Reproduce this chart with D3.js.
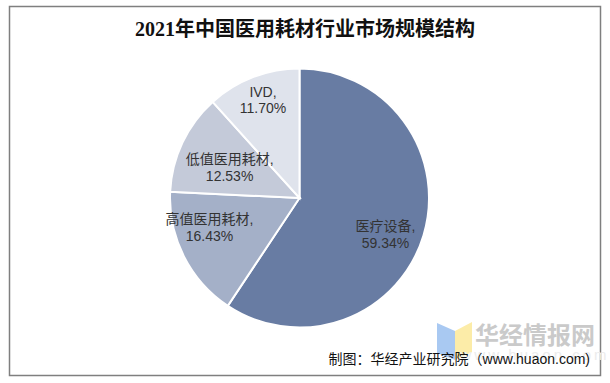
<!DOCTYPE html>
<html>
<head>
<meta charset="utf-8">
<script src="https://cdn.jsdelivr.net/npm/d3@7"></script>
<style>
  body { margin: 0; background: #fff; }
  svg { display: block; }
</style>
</head>
<body>
<svg id="chart" width="610" height="383"></svg>
<script>
// chart data
const categories = ["医疗设备", "高值医用耗材", "低值医用耗材", "IVD"];
const shares = [59.34, 16.43, 12.53, 11.70];
const colors = ["#687ca3", "#a4b0c8", "#c4cad9", "#dfe3ec"];
const titleText = "2021年中国医用耗材行业市场规模结构";

const svg = d3.select("#chart");
const cx = 299.5, cy = 198, radius = 129.5;

// frame
svg.append("rect")
  .attr("x", 9.5).attr("y", 6.5)
  .attr("width", 591).attr("height", 369)
  .attr("fill", "#fff")
  .attr("stroke", "#7f7f7f")
  .attr("stroke-width", 1.5);

// title
svg.append("text")
  .attr("x", 305).attr("y", 36)
  .attr("text-anchor", "middle")
  .attr("font-family", "'Liberation Serif', 'Noto Sans CJK SC', serif")
  .attr("font-weight", "bold")
  .attr("font-size", 20)
  .attr("fill", "#111")
  .text(titleText);

const data = categories.map((c, i) => ({ name: c, value: shares[i], color: colors[i] }));

const pie = d3.pie().sort(null).value(d => d.value);
const arc = d3.arc().innerRadius(0).outerRadius(radius);

const g = svg.append("g").attr("transform", `translate(${cx},${cy})`);

const arcs = pie(data);

g.selectAll("path")
  .data(arcs)
  .join("path")
  .attr("d", arc)
  .attr("fill", d => d.data.color)
  .attr("stroke", "#fff")
  .attr("stroke-width", 2);

// label placement: radial fraction and angular nudge (degrees) per slice
const labelR = [0.72, 0.73, 0.59, 0.81];
const labelNudge = [6, 9, -1.5, 0.7];
function labelPos(d, i) {
  const a = (d.startAngle + d.endAngle) / 2 + labelNudge[i] * Math.PI / 180;
  const r = radius * labelR[i];
  return [r * Math.sin(a), -r * Math.cos(a)];
}

const labels = g.selectAll("text.lbl")
  .data(arcs)
  .join("text")
  .attr("class", "lbl")
  .attr("transform", (d, i) => `translate(${labelPos(d, i)})`)
  .attr("text-anchor", "middle")
  .attr("font-family", "Arial, 'Liberation Sans', 'Noto Sans CJK SC', sans-serif")
  .attr("font-size", 14)
  .attr("fill", "#333");

labels.append("tspan")
  .attr("x", 0).attr("dy", "-0.22em")
  .text(d => d.data.name + ",");
labels.append("tspan")
  .attr("x", 0).attr("dy", "1.2em")
  .text(d => d.data.value.toFixed(2) + "%");

// watermark logo
const logo = svg.append("g");
logo.append("path")
  .attr("d", "M437,323 L455,331 L455,360 L437,353 Z")
  .attr("fill", "#a9c9f2");
logo.append("path")
  .attr("d", "M455,331 L472,322 L472,352 L455,360 Z")
  .attr("fill", "#fceca8");

svg.append("text")
  .attr("x", 535).attr("y", 344)
  .attr("text-anchor", "middle")
  .attr("font-family", "'Noto Sans CJK SC', sans-serif")
  .attr("font-weight", "bold")
  .attr("font-size", 24)
  .attr("fill", "#cacaca")
  .text("华经情报网");

svg.append("text")
  .attr("x", 535).attr("y", 360)
  .attr("text-anchor", "middle")
  .attr("font-family", "Arial, 'Liberation Sans', sans-serif")
  .attr("font-size", 15)
  .attr("letter-spacing", 3)
  .attr("fill", "#ececec")
  .text("www.huaon.com");

// credit
svg.append("text")
  .attr("x", 590).attr("y", 364)
  .attr("text-anchor", "end")
  .attr("font-family", "Arial, 'Liberation Sans', 'Noto Sans CJK SC', sans-serif")
  .attr("font-size", 14)
  .attr("fill", "#111")
  .text("制图：华经产业研究院（www.huaon.com)");
</script>
</body>
</html>
